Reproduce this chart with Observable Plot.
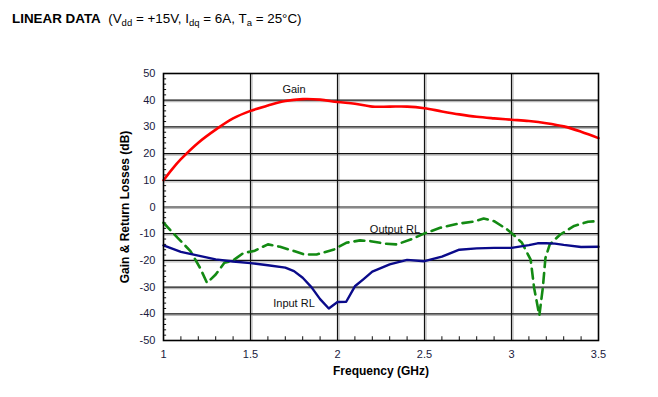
<!DOCTYPE html>
<html><head><meta charset="utf-8">
<script src="https://cdn.jsdelivr.net/npm/d3@7"></script>
<script src="https://cdn.jsdelivr.net/npm/@observablehq/plot@0.6"></script>
<style>
body{margin:0;background:#fff;font-family:"Liberation Sans",Arial,sans-serif;}
#title{height:38px;position:relative;}
#title .t{position:absolute;left:12px;top:11px;font-size:13.4px;line-height:16px;white-space:nowrap;color:#000;}
#title sub{font-size:9.5px;vertical-align:-3px;line-height:0;}
</style></head><body>
<div id="title"><div class="t"><b>LINEAR DATA</b>&nbsp; (V<sub>dd</sub> = +15V, I<sub>dq</sub> = 6A, T<sub>a</sub> = 25°C)</div></div>
<div id="chart"></div>
<script>
// Gain
const gainFreq = [1.0,1.05,1.1,1.2,1.3,1.4,1.5,1.6,1.7,1.8,1.9,2.0,2.1,2.2,2.3,2.4,2.5,2.6,2.7,2.8,2.9,3.0,3.1,3.2,3.3,3.4,3.5];
const gainDb   = [10,14.2,17.9,24.1,29,33.2,36,38,39.7,40.4,40.2,39.3,38.7,37.6,37.6,37.6,37,35.8,34.7,33.8,33.2,32.7,32.2,31.4,30.2,28.2,25.8];
// Input return loss
const inFreq = [1.0,1.1,1.2,1.3,1.4,1.5,1.6,1.7,1.75,1.8,1.85,1.9,1.95,2.0,2.05,2.1,2.15,2.2,2.3,2.4,2.5,2.6,2.7,2.8,2.9,3.0,3.1,3.15,3.2,3.25,3.3,3.4,3.5];
const inDb   = [-14.4,-16.8,-18.2,-19.6,-20.4,-21,-21.8,-22.7,-24,-26.5,-30,-34.5,-38,-35.6,-35.5,-29.7,-27,-24.2,-21.5,-19.8,-20.3,-18.6,-16,-15.5,-15.3,-15.3,-14.3,-13.6,-13.6,-13.7,-14.2,-15,-14.9];
// Output return loss
const outFreq = [1.0,1.08,1.155,1.21,1.25,1.3,1.35,1.4,1.46,1.52,1.6,1.67,1.75,1.81,1.88,1.98,2.05,2.13,2.19,2.27,2.34,2.42,2.5,2.59,2.69,2.78,2.84,2.9,2.975,3.02,3.06,3.11,3.13,3.16,3.18,3.195,3.22,3.28,3.36,3.44,3.5];
const outDb   = [-5.9,-11.5,-16.5,-22.8,-28.4,-25.3,-20.9,-20,-17.2,-16.5,-14,-14.9,-16.5,-17.8,-17.8,-15.9,-13.4,-12.5,-12.8,-13.7,-14,-12.2,-9.9,-7.8,-6.3,-5.5,-4.3,-5.3,-8.4,-10.9,-13.4,-19.7,-30.3,-40.6,-30.3,-19.1,-14,-10.3,-7.1,-5.5,-5.3];
// Ticks
const xTicks = [1,1.5,2,2.5,3,3.5];
const yTicks = [-50,-40,-30,-20,-10,0,10,20,30,40,50];
const xMinor = d3.range(11,35).map(d=>d/10).filter(d=>Math.abs(d*2-Math.round(d*2))>1e-6);
const yMinor = d3.range(-48,50,2).filter(d=>d%10!==0);
// Series labels
const labelText = ["Gain","Output RL","Input RL"];
const labelFreq = [1.75,2.33,1.75];
const labelDb   = [44,-8.3,-36];

const gain = gainFreq.map((f,i)=>({f, v:gainDb[i]}));
const inp = inFreq.map((f,i)=>({f, v:inDb[i]}));
const out = outFreq.map((f,i)=>({f, v:outDb[i]}));
const labels = labelText.map((t,i)=>({t, f:labelFreq[i], v:labelDb[i]}));

const chart = Plot.plot({
  width:658, height:359,
  marginTop:35, marginBottom:57, marginLeft:163, marginRight:60,
  style:{fontFamily:'"Liberation Sans",Arial,sans-serif', background:"#fff"},
  x:{domain:[1,3.5]},
  y:{domain:[-50,50]},
  marks:[
    Plot.ruleX(xTicks.slice(1,-1), {stroke:"#bbb", strokeWidth:1.2, dx:1.5}),
    Plot.ruleY(yTicks.slice(1,-1), {stroke:"#bbb", strokeWidth:1.2, dy:1.5}),
    Plot.ruleX(xTicks.slice(1,-1), {stroke:"#111", strokeWidth:1.2}),
    Plot.ruleY(yTicks.slice(1,-1), {stroke:"#111", strokeWidth:1.2}),
    Plot.ruleX(xMinor, {y1:-50, y2:-48.6, stroke:"#111", strokeWidth:1}),
    Plot.ruleY(yMinor, {x1:1, x2:1.018, stroke:"#111", strokeWidth:1}),
    Plot.line(out, {x:"f", y:"v", stroke:"#138a13", strokeWidth:2.6, strokeDasharray:"10,6"}),
    Plot.line(inp, {x:"f", y:"v", stroke:"#0a0a8a", strokeWidth:2.4}),
    Plot.line(gain, {x:"f", y:"v", stroke:"#ff0000", strokeWidth:2.6, curve:"catmull-rom"}),
    Plot.frame({stroke:"#000", strokeWidth:1.6}),
    Plot.axisX(xTicks, {tickSize:0, tickPadding:10, fontSize:11, fill:"#1a1a40", tickFormat:d=>String(d), label:null}),
    Plot.axisY(yTicks, {tickSize:0, tickPadding:8, fontSize:11, fill:"#1a1a40", tickFormat:d=>String(d), label:null}),
    Plot.text(labels, {x:"f", y:"v", text:"t", fontSize:11, fill:"#111"}),
    Plot.text(["Gain & Return Losses (dB)"], {frameAnchor:"left", dx:-38, rotate:-90, textAnchor:"middle", lineAnchor:"middle", fontSize:12, fontWeight:"bold", fill:"#000"}),
    Plot.text(["Frequency (GHz)"], {frameAnchor:"bottom", dy:31, textAnchor:"middle", lineAnchor:"middle", fontSize:12, fontWeight:"bold", fill:"#000"})
  ]
});
document.getElementById("chart").appendChild(chart);
</script>
</body></html>
